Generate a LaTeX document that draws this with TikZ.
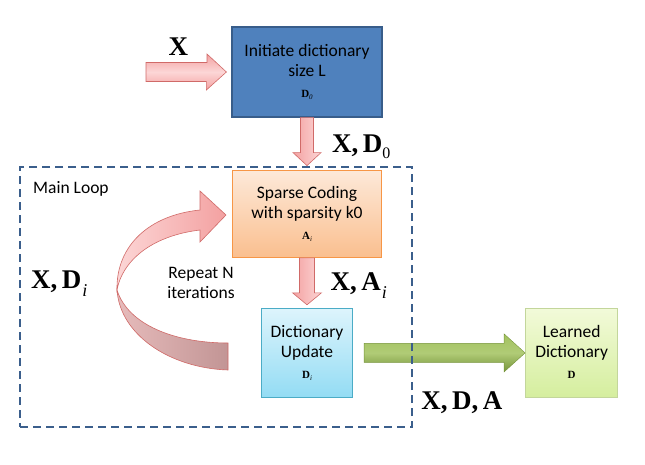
\documentclass[tikz,border=0pt]{standalone}
\usepackage{fontspec}
\setmainfont{Carlito}
\newfontfamily\lblfont{Liberation Serif}
\usetikzlibrary{positioning,calc}

\definecolor{initfill}{HTML}{4F81BD}
\definecolor{initedge}{HTML}{385D8A}
\definecolor{codeedge}{HTML}{F79646}
\definecolor{codetop}{HTML}{FDE9D9}
\definecolor{codebot}{HTML}{FABF8F}
\definecolor{updedge}{HTML}{4BACC6}
\definecolor{updtop}{HTML}{DDF4FC}
\definecolor{updbot}{HTML}{93DCF4}
\definecolor{lrnedge}{HTML}{C3D69B}
\definecolor{lrntop}{HTML}{F2FAD9}
\definecolor{lrnbot}{HTML}{D5EE9E}
\definecolor{pinkA}{HTML}{F3A1A1}
\definecolor{pinkB}{HTML}{FCD6D6}
\definecolor{pinkedge}{HTML}{D06A68}
\definecolor{backA}{HTML}{E6BBBB}
\definecolor{backB}{HTML}{C29595}
\definecolor{greenA}{HTML}{A2C25E}
\definecolor{greenB}{HTML}{76943A}
\definecolor{loopedge}{HTML}{3B5F8C}

\newcommand{\biglbl}[1]{{\fontsize{27}{30}\selectfont\lblfont\bfseries #1}}
\newcommand{\subup}[1]{\raisebox{-6pt}{\fontsize{16}{16}\selectfont\mdseries #1}}
\newcommand{\subit}[1]{\kern1pt\raisebox{-8pt}{\fontsize{18}{18}\selectfont\mdseries\itshape #1}}
\newcommand{\boxsym}[2]{{\fontsize{11}{12}\selectfont\lblfont\bfseries #1\raisebox{-2pt}{\fontsize{7}{7}\selectfont\mdseries\itshape #2}}}

\begin{document}
\begin{tikzpicture}[x=1pt,y=-1pt,
    box/.style={draw,line width=1.2pt,align=center,inner sep=0pt,
        font=\fontsize{17.5}{20}\selectfont},
    lbl/.style={inner sep=0pt,anchor=base west},
    pinkarrow/.style={draw=pinkedge,line width=0.6pt,left color=pinkA,right color=pinkB},
    greenarrow/.style={draw=greenB,line width=0.4pt,top color=greenA,bottom color=greenB,middle color=greenA!85!white},
    loopfront/.style={draw=pinkedge,line width=0.6pt,left color=pinkB,right color=pinkA},
    loopback/.style={draw=pinkedge,line width=0.6pt,left color=backA,right color=backB},
    loopline/.style={draw=loopedge,line width=2pt,dash pattern=on 8pt off 5pt,inner sep=0pt}]
    \useasboundingbox (0,0) rectangle (645,464);

    % boxes
    \node[box,draw=initedge,fill=initfill,minimum width=150pt,minimum height=90pt] (init) at (307,72)
        {Initiate dictionary\\size L\\[1pt]\boxsym{D}{0}};
    \node[box,draw=codeedge,top color=codetop,bottom color=codebot,minimum width=149pt,minimum height=87pt,below=52pt of init] (sparse)
        {Sparse Coding\\with sparsity k0\\[1pt]\boxsym{A}{i}};
    \node[box,draw=updedge,top color=updtop,bottom color=updbot,minimum width=91pt,minimum height=89pt,below=50pt of sparse] (update)
        {Dictionary\\Update\\[1pt]\boxsym{D}{i}};
    \node[box,draw=lrnedge,top color=lrntop,bottom color=lrnbot,minimum width=92pt,minimum height=89pt,right=172pt of update] (learned)
        {Learned\\Dictionary\\[1pt]\boxsym{D}{}};

    % block arrows
    \coordinate (xin) at (146,72);
    \path[pinkarrow,top color=pinkA,bottom color=pinkA,middle color=pinkB]
        ($(xin)+(0,-9.5)$) -- ++(61,0) -- ++(0,-8.5) -- ($(init.west)+(-5,0)$)
        -- ++(-20,18) -- ++(0,-8.5) -- ($(xin)+(0,9.5)$) -- cycle;
    \path[pinkarrow] ($(init.south)+(-6.5,0)$) -- ++(0,35) -- ++(-7.5,0)
        -- ($(sparse.north)+(0,-4)$) -- ++(14,-13) -- ++(-7.5,0) -- ($(init.south)+(6.5,0)$) -- cycle;
    \path[pinkarrow] ($(sparse.south)+(-7.5,0)$) -- ++(0,35) -- ++(-7,0)
        -- ($(update.north)+(0,-3)$) -- ++(14.5,-12) -- ++(-7,0) -- ($(sparse.south)+(7.5,0)$) -- cycle;
    \path[greenarrow] ($(update.east)+(11,-9.5)$) -- ($(learned.west)+(-21,-9.5)$) -- ++(0,-9.5)
        -- (learned.west) -- ++(-21,19) -- ++(0,-9.5) -- ($(update.east)+(11,9.5)$) -- cycle;

    % loop arrow
    \path[loopback] (117,290) .. controls (120,335) and (170,368) .. (228,370)
        -- (228,343) .. controls (175,343) and (128,325) .. (117,290) -- cycle;
    \path[loopfront] (200,210) .. controls (150,215) and (116,245) .. (117,290)
        .. controls (122,262) and (150,236) .. (200,230) -- (200,242) -- (226,215) -- (200,191) -- cycle;

    % main loop frame
    \node[loopline,minimum width=392pt,minimum height=260pt] (loop) at (216,297) {};
    \node[lbl,font=\fontsize{17.5}{20}\selectfont] (looplbl) at ($(loop.north west)+(14,27)$) {Main Loop};
    \node[align=center,inner sep=0pt,font=\fontsize{17.5}{20}\selectfont] (repeat) at (201,283) {Repeat N\\iterations};

    % labels
    \node[lbl] (lx) at ($(init.west)+(-63,-17)$) {\biglbl{X}};
    \node[lbl] (lxd) at ($(init.south)+(25,35)$) {\biglbl{X,\,D\subup{0}}};
    \node[lbl] (lxa) at ($(sparse.south)+(23.5,33)$) {\biglbl{X,\,A\subit{i}}};
    \node[lbl] (lxdi) at ($(loop.west)+(12,-9)$) {\biglbl{X,\,D\subit{i}}};
    \node[lbl] (lxda) at ($(update.south east)+(68,11)$) {\biglbl{X,\,D,\,A}};
\end{tikzpicture}
\end{document}
